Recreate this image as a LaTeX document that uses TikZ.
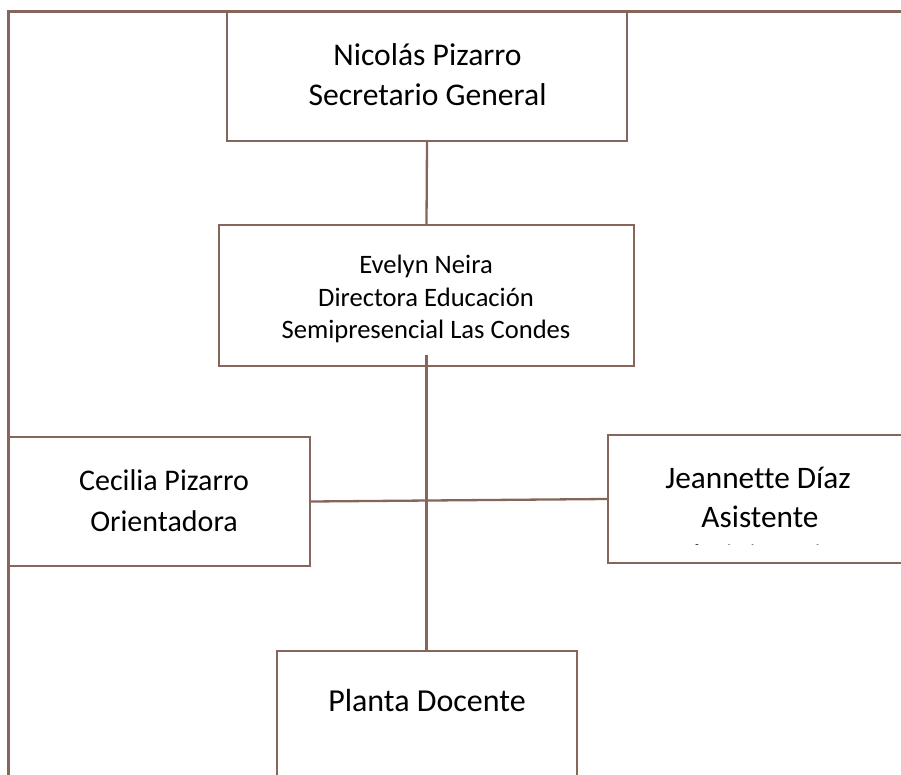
\documentclass[tikz,border=0pt]{standalone}
\usepackage{fontspec}
\setmainfont{Carlito}[Ligatures={NoCommon}]
\definecolor{linebrown}{RGB}{134,102,90}
\begin{document}
\begin{tikzpicture}[x=1pt,y=-1pt,
  box/.style={draw=linebrown,line width=2.3pt,rectangle,inner sep=0pt,anchor=center},
  txt/.style={inner sep=0pt,align=center,text=black},
  conn/.style={draw=linebrown,line width=2.3pt}]
\useasboundingbox (0,0) rectangle (901,775);
\clip (0,0) rectangle (901,775);
% outer frame
\draw[conn] (8.5,780) -- (8.5,11.5) -- (905,11.5);
% boxes
\node[box,minimum width=400pt,minimum height=129pt] (ns) at (427,76.5) {};
\node[box,minimum width=415pt,minimum height=141pt] (ev) at (426.5,295.5) {};
\node[box,minimum width=301pt,minimum height=129pt] (cp) at (159.5,501.5) {};
\node[box,minimum width=297pt,minimum height=128pt] (jd) at (756.5,499) {};
\node[box,minimum width=300pt,minimum height=140pt] (pd) at (427,721) {};
% texts
\node[txt,font=\fontsize{31.6}{40}\selectfont] (nst) at (427.5,74.5) {Nicolás Pizarro\\Secretario General};
\node[txt,font=\fontsize{26.6}{32.5}\selectfont] (evt) at (426,299) {Evelyn Neira\\Directora Educación\\Semipresencial Las Condes};
\node[txt,font=\fontsize{30}{41}\selectfont] (cpt) at (164,501) {Cecilia Pizarro\\Orientadora};
\node[txt,font=\fontsize{31.3}{40}\selectfont,anchor=base] (jd1) at (758,488) {Jeannette Díaz};
\node[txt,font=\fontsize{31.3}{40}\selectfont,anchor=base] (jd2) at (760,527) {Asistente};
\begin{scope}
\clip (600,520) rectangle (901,544.5);
\node[txt,font=\fontsize{31.3}{40}\selectfont,anchor=base] (jd3) at (758,566) {Administrativa};
\end{scope}
\node[txt,font=\fontsize{32}{40}\selectfont,anchor=base] (pdt) at (427,711) {Planta Docente};
% connectors
\draw[conn] (ns.south) -- (ev.north);
\draw[conn] ([yshift=12pt]ev.south) -- (ev.south |- pd.north);
\draw[conn] (cp.east) -- (jd.west);
\end{tikzpicture}
\end{document}
